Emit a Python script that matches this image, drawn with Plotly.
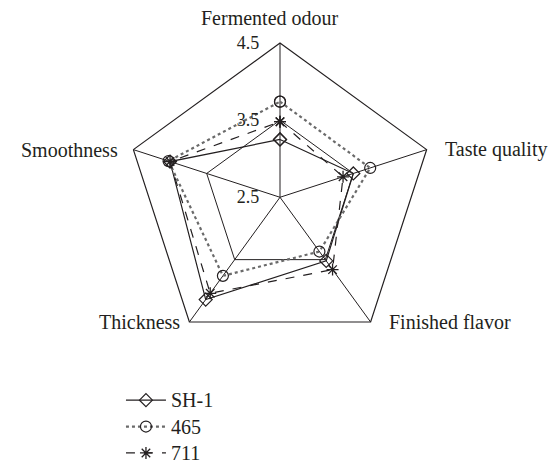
import math
import plotly.graph_objects as go

# ---- data ----
categories = ["Fermented odour", "Taste quality", "Finished flavor", "Thickness", "Smoothness"]
series_names = ["SH-1", "465", "711"]
sh1_values = [3.25, 3.50, 3.52, 4.14, 4.00]
v465_values = [3.74, 3.73, 3.37, 3.76, 4.02]
v711_values = [3.48, 3.36, 3.66, 4.04, 4.00]
radial_ticks = [2.5, 3.5, 4.5]
radial_tick_labels = ["2.5", "3.5", "4.5"]

# ---- layout geometry ----
W, H = 560, 472
CX, CY, R = 280, 206, 161  # pixel centre (from top) and radius of polar area
xdom = [(CX - R) / W, (CX + R) / W]
ydom = [(H - CY - R) / H, (H - CY + R) / H]

FONT = "Liberation Serif"
INK = "#231f20"

styles = [
    dict(line=dict(color=INK, width=1.2, dash="solid"),
         marker=dict(symbol="diamond-open", size=10, color=INK, line=dict(width=1.2))),
    dict(line=dict(color="#6a6a6a", width=2.2, dash="dot"),
         marker=dict(symbol="circle-open", size=11, color=INK, line=dict(width=1.2))),
    dict(line=dict(color=INK, width=1.2, dash="dash"),
         marker=dict(symbol="asterisk-open", size=10, color=INK, line=dict(width=1.3))),
]

fig = go.Figure()
for name, vals, st in zip(series_names, [sh1_values, v465_values, v711_values], styles):
    fig.add_trace(go.Scatterpolar(
        r=vals + vals[:1], theta=categories + categories[:1],
        mode="lines+markers", name='<span style="font-size:20px">' + name + "</span>",
        line=st["line"], marker=st["marker"],
    ))

# category labels as annotations placed beside polygon vertices
label_offsets = {  # (xanchor, yanchor, xshift, yshift)
    "Fermented odour": ("center", "middle", -10, 25),
    "Taste quality": ("left", "middle", 10, 0),
    "Finished flavor": ("left", "middle", 12, 0),
    "Thickness": ("right", "middle", -3, 0),
    "Smoothness": ("right", "middle", -7, 0),
}
annotations = []
for i, cat in enumerate(categories):
    ang = math.radians(90 - 72 * i)
    px = CX + R * math.cos(ang)
    py = CY - R * math.sin(ang)
    xa, ya, xs, ys = label_offsets[cat]
    annotations.append(dict(
        x=px / W, y=1 - py / H, xref="paper", yref="paper", text=cat,
        showarrow=False, xanchor=xa, yanchor=ya, xshift=xs, yshift=ys,
        font=dict(family=FONT, size=20, color=INK),
    ))

fig.update_layout(
    width=W, height=H,
    margin=dict(l=0, r=0, t=0, b=0),
    paper_bgcolor="white", plot_bgcolor="white",
    font=dict(family=FONT, size=18, color=INK),
    polar=dict(
        domain=dict(x=xdom, y=ydom),
        bgcolor="white",
        gridshape="linear",
        angularaxis=dict(
            rotation=90, direction="clockwise",
            showticklabels=False, ticks="",
            showline=True, linecolor=INK, linewidth=1.2,
            showgrid=True, gridcolor=INK, gridwidth=1.2,
        ),
        radialaxis=dict(
            range=[2.5, 4.5], tickvals=radial_ticks, ticktext=radial_tick_labels,
            angle=90, side="counterclockwise", tickangle=90,
            showline=False, ticks="outside", ticklen=14, tickcolor="rgba(0,0,0,0)",
            showgrid=True, gridcolor=INK, gridwidth=1.2,
            tickfont=dict(family=FONT, size=18, color=INK),
        ),
    ),
    legend=dict(
        x=0.216, y=0.155, xanchor="left", yanchor="top",
        font=dict(family=FONT, size=18, color=INK),
        bgcolor="rgba(0,0,0,0)", tracegroupgap=0, itemwidth=40,
    ),
    annotations=annotations,
    showlegend=True,
)

fig.write_html("out.html", config={"displayModeBar": False},
               post_script="document.body.style.margin='0px';")
